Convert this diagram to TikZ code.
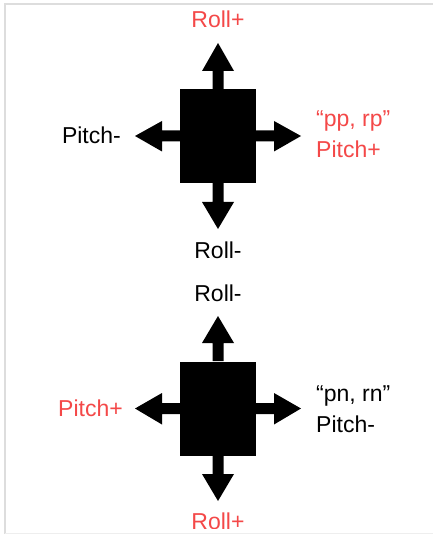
\documentclass[tikz,border=0pt]{standalone}
\usepackage{fontspec}
\setmainfont{Liberation Sans}
\definecolor{lbred}{RGB}{244,72,72}
\definecolor{framegray}{RGB}{221,221,221}
\tikzset{
  lbl/.style={inner sep=0pt, anchor=base, font=\fontsize{23}{27}\selectfont},
  lblw/.style={lbl, anchor=base west},
  arrowshape/.style={fill=black, draw=none},
  body/.style={fill=black, draw=none, minimum width=76pt, minimum height=94pt, inner sep=0pt}
}
\begin{document}
\begin{tikzpicture}[x=1pt,y=-1pt]
\useasboundingbox (0,0) rectangle (433,534);
\fill[white] (0,0) rectangle (433,534);
% frame
\draw[framegray, line width=2pt] (5,534) -- (5,4.5) -- (433,4.5);
\draw[framegray!50, line width=0.8pt] (5,533) -- (433,533);
\begin{scope}
\clip (6,5.5) rectangle (433,528.5);
% ---------- top diagram ----------
\node[body] (b1) at (218,136) {};
\fill[arrowshape] (212.5,89) -- (212.5,71) -- (202,71) -- (218,43) -- (234,71) -- (223.5,71) -- (223.5,89) -- cycle;
\fill[arrowshape] (212.5,183) -- (212.5,202) -- (202,202) -- (218,229) -- (234,202) -- (223.5,202) -- (223.5,183) -- cycle;
\fill[arrowshape] (180,130.5) -- (162,130.5) -- (162,121) -- (135,136) -- (162,151.5) -- (162,141.5) -- (180,141.5) -- cycle;
\fill[arrowshape] (256,130.5) -- (274,130.5) -- (274,121) -- (301,136) -- (274,151.5) -- (274,141.5) -- (256,141.5) -- cycle;
\node[lbl, text=lbred] (t1) at (218,28) {Roll+};
\node[lbl] (t2) at (218,258) {Roll-};
\node[lbl, anchor=base east] (t3) at (121,144) {Pitch-};
\node[lblw, text=lbred] (t4) at (316,127) {“pp, rp”};
\node[lblw, text=lbred] (t5) at (316,158) {Pitch+};
% ---------- bottom diagram ----------
\node[body] (b2) at (218,408.5) {};
\fill[arrowshape] (212.5,361) -- (212.5,343) -- (202,343) -- (218,316) -- (234,343) -- (223.5,343) -- (223.5,361) -- cycle;
\fill[arrowshape] (212.5,456) -- (212.5,474) -- (202,474) -- (218,501) -- (234,474) -- (223.5,474) -- (223.5,456) -- cycle;
\fill[arrowshape] (180,403) -- (162,403) -- (162,393) -- (135,408.5) -- (162,424.5) -- (162,414) -- (180,414) -- cycle;
\fill[arrowshape] (256,403) -- (274,403) -- (274,393) -- (301,408.5) -- (274,424.5) -- (274,414) -- (256,414) -- cycle;
\node[lbl] (u1) at (218,301) {Roll-};
\node[lbl, text=lbred] (u2) at (218,529) {Roll+};
\node[lbl, anchor=base east, text=lbred] (u3) at (123,416) {Pitch+};
\node[lblw] (u4) at (316,401) {“pn, rn”};
\node[lblw] (u5) at (316,432) {Pitch-};
\end{scope}
\end{tikzpicture}
\end{document}
